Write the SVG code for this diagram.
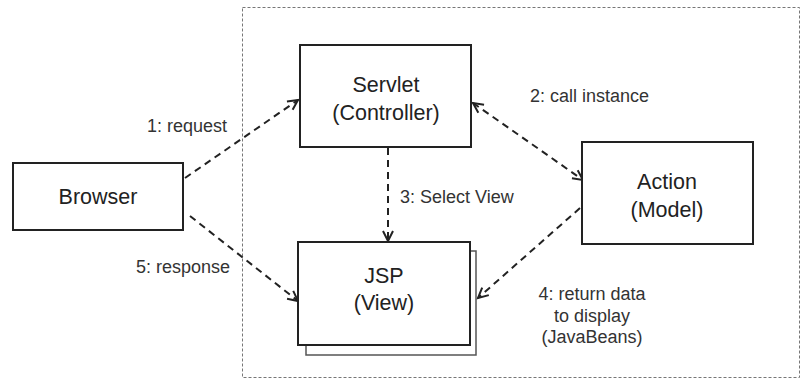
<svg xmlns="http://www.w3.org/2000/svg" width="802" height="383" viewBox="0 0 802 383">
<defs>
<style>
.box{fill:#fff;stroke:#222;stroke-width:2}
.frame{fill:none;stroke:#777;stroke-width:1;stroke-dasharray:3 2}
.conn{fill:none;stroke:#222;stroke-width:2;stroke-dasharray:7 5}
.nt{font-family:"Liberation Sans",Arial,sans-serif;font-size:21.5px;fill:#222;text-anchor:middle}
.lb{font-family:"Liberation Sans",Arial,sans-serif;font-size:18px;fill:#333}
</style>
<marker id="ah" markerUnits="userSpaceOnUse" markerWidth="14" markerHeight="14" refX="11" refY="6" orient="auto-start-reverse" viewBox="0 0 14 12">
<path d="M1,1 L11,6 L1,11" fill="none" stroke="#222" stroke-width="2"/>
</marker>
</defs>
<rect width="802" height="383" fill="#fff"/>
<rect class="frame" x="242.5" y="7.5" width="557" height="370"/>
<g id="connectors">
<path class="conn" d="M185,178 L298,100" marker-end="url(#ah)"/>
<path class="conn" d="M190,216 L298,301" marker-end="url(#ah)"/>
<path class="conn" d="M473,103 L583,180" marker-start="url(#ah)" marker-end="url(#ah)"/>
<path class="conn" d="M388,148 L388,241" marker-end="url(#ah)"/>
<path class="conn" d="M580,208 L478,298" marker-end="url(#ah)"/>
<text class="lb" x="147" y="132">1: request</text>
<text class="lb" x="136" y="273">5: response</text>
<text class="lb" x="530" y="102">2: call instance</text>
<text class="lb" x="400" y="203">3: Select View</text>
<text class="lb" x="592" y="300" text-anchor="middle">4: return data</text>
<text class="lb" x="592" y="322" text-anchor="middle">to display</text>
<text class="lb" x="592" y="343" text-anchor="middle">(JavaBeans)</text>
</g>
<g id="browser">
<rect class="box" x="13" y="163" width="170" height="67"/>
<text class="nt" x="98" y="204">Browser</text>
</g>
<g id="servlet">
<rect class="box" x="300" y="45" width="171" height="102"/>
<text class="nt" x="386" y="92">Servlet</text>
<text class="nt" x="386" y="120">(Controller)</text>
</g>
<g id="jsp">
<rect x="306" y="251" width="170" height="104" fill="#fff" stroke="#555" stroke-width="1.5"/>
<rect class="box" x="298" y="242" width="172" height="103"/>
<text class="nt" x="384" y="283">JSP</text>
<text class="nt" x="384" y="310">(View)</text>
</g>
<g id="action">
<rect class="box" x="582" y="142" width="171" height="102"/>
<text class="nt" x="667" y="189">Action</text>
<text class="nt" x="667" y="217">(Model)</text>
</g>
</svg>
